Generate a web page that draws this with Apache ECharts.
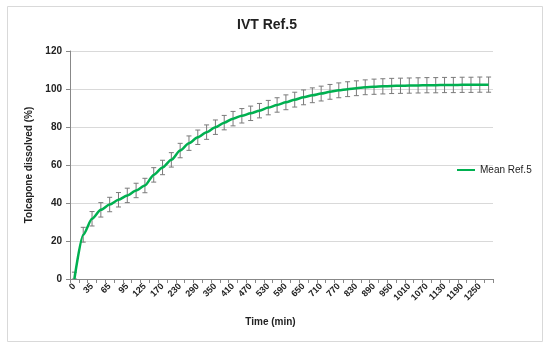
<!DOCTYPE html>
<html>
<head>
<meta charset="utf-8">
<script src="https://cdn.jsdelivr.net/npm/echarts@6/dist/echarts.min.js"></script>
<style>
html,body{margin:0;padding:0;background:#fff;}
#c{width:550px;height:354px;}
</style>
</head>
<body>
<div id="c"></div>
<script>
var times = ['0','20','35','50','65','80','95','110','125','140','170','200','230','260','290','320','350','380','410','440','470','500','530','560','590','620','650','680','710','740','770','800','830','860','890','920','950','980','1010','1040','1070','1100','1130','1160','1190','1220','1250','1280'];
var meanRef5 = [0,23.3,31.7,36.4,39.2,41.7,44.0,46.6,49.2,54.8,58.7,62.7,67.6,71.5,74.6,77.3,79.9,82.3,84.4,85.9,87.2,88.6,90.2,91.6,93.0,94.4,95.6,96.7,97.6,98.5,99.3,99.9,100.4,100.9,101.2,101.4,101.6,101.7,101.8,101.9,102.0,102.0,102.1,102.1,102.2,102.2,102.3,102.3];
var sdRef5 = [3.6,3.9,3.8,3.8,3.8,3.8,3.8,3.8,3.8,3.8,3.8,3.8,3.8,3.8,3.8,3.8,3.8,3.8,3.8,3.8,3.8,3.8,3.8,3.8,3.9,3.9,3.9,3.9,3.9,3.9,3.9,3.9,3.9,3.9,4.0,4.0,4.0,4.0,4.0,4.0,4.0,4.0,4.0,4.0,4.0,4.0,4.0,4.0];
var yTicks = [0,20,40,60,80,100,120];

var errData = meanRef5.map(function(v,i){ return [i, Math.max(0, v - sdRef5[i]), v + sdRef5[i]]; });

var chart = echarts.init(document.getElementById('c'), null, {renderer:'canvas'});
var FONT = 'Liberation Sans, Arial, sans-serif';
chart.setOption({
  animation:false,
  backgroundColor:'#fff',
  graphic:[{type:'rect', shape:{x:7.5,y:6.5,width:535,height:335}, style:{fill:'none', stroke:'#d9d9d9', lineWidth:1}, silent:true, z:-1}],
  title:{text:'IVT Ref.5', left:262, top:13, textAlign:'center', textStyle:{fontFamily:FONT, fontWeight:'bold', fontSize:14, color:'#222'}},
  legend:{data:['Mean Ref.5'], orient:'vertical', left:452, top:160, itemWidth:18, itemHeight:10, itemGap:4, icon:'path://M0,4L18,4L18,6L0,6Z',
    textStyle:{fontFamily:FONT, fontSize:10, color:'#222'}},
  grid:{left:70, right:57, top:51, bottom:75, containLabel:false},
  xAxis:{type:'category', data:times, boundaryGap:true,
    name:'Time (min)', nameLocation:'middle', nameGap:38,
    nameTextStyle:{fontFamily:FONT, fontWeight:'bold', fontSize:10, color:'#222', padding:[0,22,0,0]},
    axisLine:{lineStyle:{color:'#888', width:1}},
    axisTick:{show:true, interval:0, length:4, lineStyle:{color:'#888'}},
    axisLabel:{interval:1, rotate:45, fontFamily:FONT, fontWeight:'bold', fontSize:9, color:'#222', margin:6},
    splitLine:{show:false}},
  yAxis:{type:'value', min:0, max:120, interval:20,
    name:'Tolcapone dissolved (%)', nameLocation:'middle', nameGap:36, nameRotate:90,
    nameTextStyle:{fontFamily:FONT, fontWeight:'bold', fontSize:10, color:'#222'},
    axisLine:{show:true, lineStyle:{color:'#888'}},
    axisTick:{show:true, length:4, lineStyle:{color:'#888'}},
    axisLabel:{fontFamily:FONT, fontWeight:'bold', fontSize:10, color:'#222', margin:8},
    splitLine:{lineStyle:{color:'#d9d9d9', width:1}}},
  series:[
    {name:'err', type:'custom', data:errData, z:2, clip:true,
     renderItem:function(params, api){
       var x = api.value(0);
       var lo = api.coord([x, api.value(1)]);
       var hi = api.coord([x, api.value(2)]);
       var w = 2.5;
       var st = {stroke:'#7a7a7a', lineWidth:1, fill:'none'};
       return {type:'group', children:[
         {type:'line', shape:{x1:lo[0],y1:lo[1],x2:hi[0],y2:hi[1]}, style:st},
         {type:'line', shape:{x1:hi[0]-w,y1:hi[1],x2:hi[0]+w,y2:hi[1]}, style:st},
         {type:'line', shape:{x1:lo[0]-w,y1:lo[1],x2:lo[0]+w,y2:lo[1]}, style:st}
       ]};
     }},
    {name:'Mean Ref.5', type:'line', data:meanRef5, smooth:0.25, smoothMonotone:'x', symbol:'none', showSymbol:false, z:3,
     lineStyle:{color:'#00B050', width:2.5}, itemStyle:{color:'#00B050'}}
  ]
});
</script>
</body>
</html>
